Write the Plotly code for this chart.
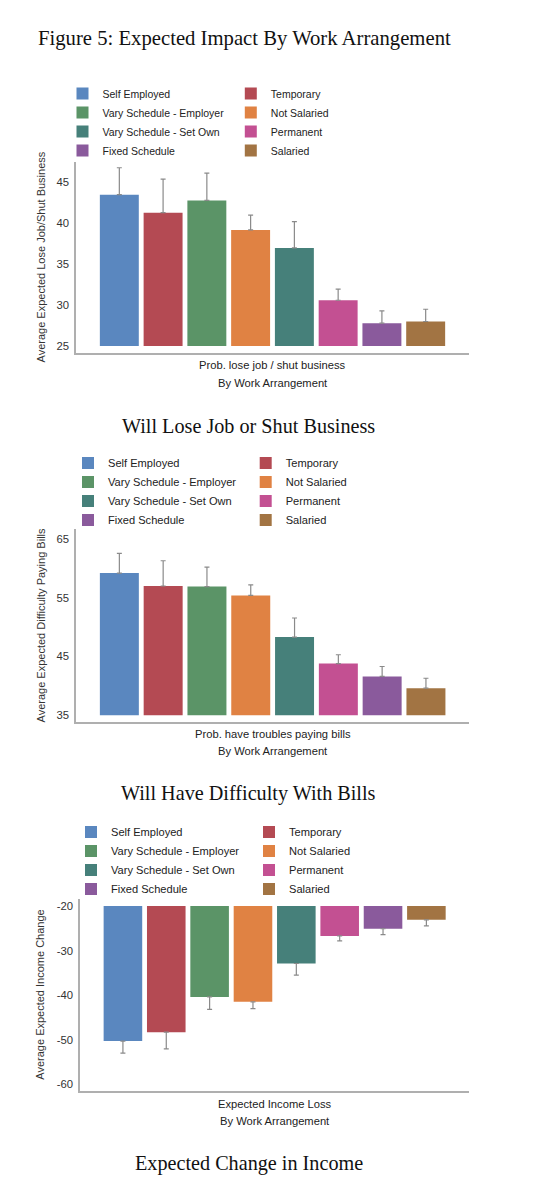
import plotly.graph_objects as go

# ---------------- data ----------------
categories = ["Self Employed", "Temporary", "Vary Schedule - Employer", "Not Salaried",
              "Vary Schedule - Set Own", "Permanent", "Fixed Schedule", "Salaried"]
colors = ["#5A87BF", "#B44A53", "#5B9467", "#E08243", "#46807A", "#C35092", "#8A5A9C", "#A27443"]

lose_job_mean = [43.5, 41.3, 42.8, 39.2, 37.0, 30.6, 27.8, 28.0]
lose_job_err = [3.3, 4.1, 3.35, 1.8, 3.2, 1.35, 1.5, 1.5]
lose_job_ticks = [25, 30, 35, 40, 45]

bills_mean = [59.2, 57.0, 56.9, 55.4, 48.3, 43.8, 41.6, 39.6]
bills_err = [3.35, 4.3, 3.3, 1.8, 3.25, 1.5, 1.7, 1.7]
bills_ticks = [35, 45, 55, 65]

income_mean = [-50.3, -48.3, -40.4, -41.5, -32.9, -26.7, -25.1, -23.1]
income_err = [2.7, 3.75, 2.8, 1.5, 2.6, 1.1, 1.3, 1.35]
income_ticks = [-60, -50, -40, -30, -20]

# ---------------- layout geometry (pixels, in page coordinates) ----------------
OFF = 8                 # default body margin of the html page
W, H = 552 - OFF, 1200 - OFF
MR = 82
PW = W - MR             # paper width
SANS = "Liberation Sans, Arial, Helvetica, sans-serif"
SERIF = "Liberation Serif, Times New Roman, serif"
AXC = "#afafaf"
ERRC = "#8a8a8a"


def px(x):
    return (x - OFF) / PW


def py(y):
    return 1 - (y - OFF) / H


panels = [
    dict(mean=lose_job_mean, err=lose_job_err, ticks=lose_job_ticks, base=25, up=True,
         yrange=[24.15, 47.5], xd=(76, 469), yd=(162, 353),
         ytitle="Average Expected Lose Job/Shut Business",
         xt1="Prob. lose job / shut business", xt1y=365.5, xt2y=383,
         cap="Will Lose Job or Shut Business", capy=426,
         legx=62.5, legy=79, legfs=10.5, entry=123.3, legname="legend"),
    dict(mean=bills_mean, err=bills_err, ticks=bills_ticks, base=35, up=True,
         yrange=[33.9, 66.65], xd=(76, 469.3), yd=(529.3, 721.7),
         ytitle="Average Expected Difficulty Paying Bills",
         xt1="Prob. have troubles paying bills", xt1y=733.5, xt2y=751,
         cap="Will Have Difficulty With Bills", capy=793.5,
         legx=68, legy=448.5, legfs=11.1, entry=132.7, legname="legend2"),
    dict(mean=income_mean, err=income_err, ticks=income_ticks, base=-20, up=False,
         yrange=[-61.43, -18.36], xd=(80, 469.3), yd=(898.7, 1090.7),
         ytitle="Average Expected Income Change",
         xt1="Expected Income Loss", xt1y=1103.5, xt2y=1121,
         cap="Expected Change in Income", capy=1163,
         legx=71, legy=817.5, legfs=11.1, entry=133.0, legname="legend3"),
]

fig = go.Figure()
annotations = []
layout_axes = {}

for k, p in enumerate(panels):
    sfx = "" if k == 0 else str(k + 1)
    xref, yref = "x" + sfx, "y" + sfx
    for i, cat in enumerate(categories):
        v = p["mean"][i]
        e = p["err"][i]
        fig.add_trace(go.Bar(
            x=[cat], y=[v - p["base"]], base=p["base"],
            name=cat, legend=p["legname"],
            marker=dict(color=colors[i], line=dict(width=0)),
            width=0.89,
            error_y=dict(type="data", symmetric=False,
                         array=[e if p["up"] else 0], arrayminus=[0 if p["up"] else e],
                         color=ERRC, thickness=1.2, width=2.5),
            xaxis=xref, yaxis=yref, hoverinfo="skip",
        ))
    layout_axes["xaxis" + sfx] = dict(
        domain=[px(p["xd"][0]), px(p["xd"][1])], anchor=yref,
        type="category", categoryorder="array", categoryarray=categories,
        range=[-0.99, 7.99], showticklabels=False, ticks="", showgrid=False,
        zeroline=False, showline=True, linecolor=AXC, linewidth=1.5, fixedrange=True,
    )
    layout_axes["yaxis" + sfx] = dict(
        domain=[py(p["yd"][1]), py(p["yd"][0])], anchor=xref,
        range=p["yrange"], tickvals=p["ticks"], ticktext=[str(t) for t in p["ticks"]],
        ticks="", ticklabelstandoff=3,
        tickfont=dict(family=SANS, size=11.3, color="#333333"),
        showgrid=False, zeroline=False, showline=True, linecolor=AXC, linewidth=1.5,
        fixedrange=True,
    )
    layout_axes[p["legname"]] = dict(
        orientation="h", x=px(p["legx"]), xanchor="left", y=py(p["legy"]), yanchor="top",
        entrywidth=p["entry"], entrywidthmode="pixels",
        font=dict(family=SANS, size=p["legfs"], color="#222222"),
        bgcolor="rgba(0,0,0,0)", borderwidth=0, traceorder="normal",
        itemclick=False, itemdoubleclick=False,
    )
    xc = (p["xd"][0] + p["xd"][1]) / 2
    yc = (p["yd"][0] + p["yd"][1]) / 2
    annotations += [
        dict(text=p["ytitle"], x=px(40), y=py(yc), xref="paper", yref="paper",
             textangle=-90, showarrow=False, xanchor="center", yanchor="middle",
             font=dict(family=SANS, size=11, color="#333333")),
        dict(text=p["xt1"], x=px(xc), y=py(p["xt1y"]), xref="paper", yref="paper",
             showarrow=False, xanchor="center", yanchor="middle",
             font=dict(family=SANS, size=11.2, color="#222222")),
        dict(text="By Work Arrangement", x=px(xc), y=py(p["xt2y"]), xref="paper", yref="paper",
             showarrow=False, xanchor="center", yanchor="middle",
             font=dict(family=SANS, size=11.2, color="#222222")),
        dict(text=p["cap"], x=px(248.5), y=py(p["capy"]), xref="paper", yref="paper",
             showarrow=False, xanchor="center", yanchor="middle",
             font=dict(family=SERIF, size=20.2, color="#111111")),
    ]

annotations.append(dict(text="Figure 5: Expected Impact By Work Arrangement",
                        x=px(244.5), y=py(38), xref="paper", yref="paper",
                        showarrow=False, xanchor="center", yanchor="middle",
                        font=dict(family=SERIF, size=20.7, color="#111111")))

fig.update_layout(
    width=W, height=H,
    margin=dict(l=0, r=MR, t=0, b=0, pad=0),
    paper_bgcolor="white", plot_bgcolor="white",
    barmode="overlay", showlegend=True,
    annotations=annotations,
    **layout_axes,
)

fig.write_html("out.html")
